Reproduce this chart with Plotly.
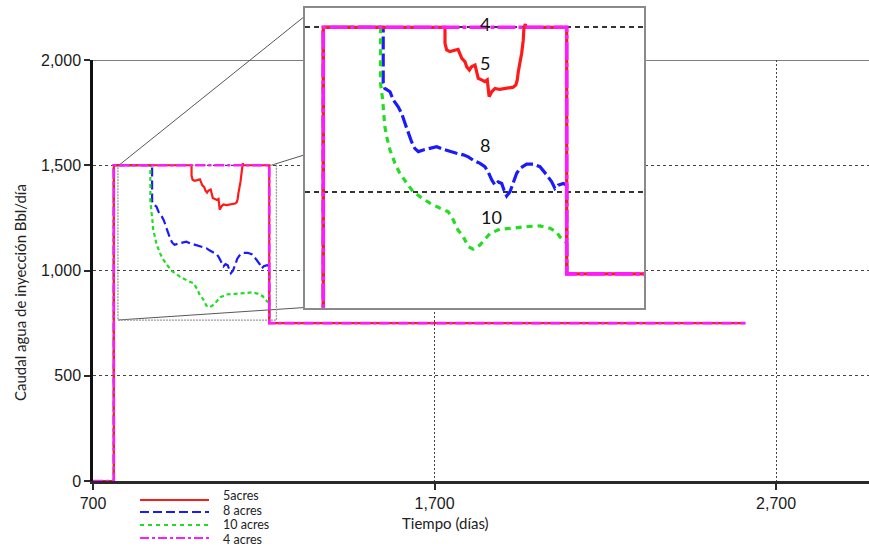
import plotly.graph_objects as go

# ---- injection-water rate per well spacing (time in days, rate in Bbl/day) ----
t_4 = [700, 761, 761, 1216, 1216, 2610]
q_4 = [0, 0, 1500, 1500, 750, 750]

t_5 = [700, 761, 761, 988.5, 988.5, 991.6, 997.8, 1007, 1013, 1016, 1019.7, 1026, 1029, 1034,
       1038, 1044.6, 1047.7, 1050.7, 1057, 1063, 1067.5, 1069, 1071, 1075.8, 1082, 1091, 1100.6,
       1110, 1116, 1121, 1123.6, 1125.5, 1128.7, 1131.8, 1134.8, 1136, 1138.6, 1140, 1216, 1216, 2610]
q_5 = [0, 0, 1500, 1500, 1451, 1431, 1426, 1431, 1433, 1421, 1406, 1395, 1380, 1370,
       1380, 1385, 1365, 1345, 1340, 1335, 1340, 1319, 1289, 1304, 1314, 1311, 1314,
       1316, 1318, 1325, 1340, 1365, 1390, 1421, 1461, 1497, 1510, 1500, 1500, 750, 750]

t_8 = [700, 761, 761, 873, 873, 876, 885.7, 891.8, 901, 907.5, 913.7, 920, 926, 932, 938.6, 948,
       960.4, 973, 985, 997.8, 1010, 1022.7, 1032, 1041, 1054, 1063, 1069, 1075.8, 1082, 1088,
       1094.5, 1098.8, 1103.8, 1110, 1116, 1122.5, 1128.7, 1141, 1153.5, 1166, 1178.6, 1188,
       1194, 1200, 1209.6, 1216, 1216]
q_8 = [0, 0, 1500, 1500, 1330, 1314, 1304, 1279, 1258, 1238, 1208, 1178, 1152, 1132, 1122, 1127,
       1132, 1137, 1129, 1122, 1117, 1112, 1106, 1096, 1086, 1076, 1061, 1036, 1020, 1030,
       1025, 1005, 987, 1000, 1025, 1056, 1071, 1084, 1084, 1076, 1051, 1030,
       1010, 1020, 1025, 1020, 750]

t_10 = [700, 761, 761, 868, 868, 872, 874.5, 876, 879.5, 885.7, 895, 904, 917, 929, 941.7, 960.4,
        979, 994.6, 1004, 1013, 1022.7, 1032, 1041, 1054, 1072.6, 1091, 1116, 1141, 1166, 1184.7,
        1197, 1203, 1212.8, 1216, 1216]
q_10 = [0, 0, 1500, 1500, 1330, 1279, 1228, 1198, 1167, 1127, 1086, 1056, 1026, 1000, 985, 965,
        950, 939, 914, 883, 863, 833, 825, 838, 873, 886, 889, 894, 896, 889,
        878, 863, 848, 845, 750]

series_names = ["5acres", "8 acres", "10 acres", "4 acres"]
x_tickvals = [700, 1700, 2700]
y_tickvals = [0, 500, 1000, 1500, 2000]
inset_labels = ["4", "5", "8", "10"]
inset_label_t = [1063, 1063, 1063, 1076]
inset_label_q = [1510, 1392, 1142, 924]

# ---- page geometry ----
W, H = 869, 546
ML, MR, MT, MB = 93, 0, 0, 65
PW, PH = W - ML - MR, H - MT - MB


def px(xpix):
    return (xpix - ML) / PW


def py(ypix):
    return (H - MB - ypix) / PH


colors = {"5acres": "#ff1a1a", "8 acres": "#1a1aff", "10 acres": "#22dd22", "4 acres": "#ff1aff"}
dash_main = {"5acres": "solid", "8 acres": "9px,4px", "10 acres": "4px,3px", "4 acres": "10px,3px,3px,3px"}
dash_inset = {"5acres": "solid", "8 acres": "13px,4px", "10 acres": "6px,5px", "4 acres": "18px,3px,4px,3px"}
data = {"5acres": (t_5, q_5), "8 acres": (t_8, q_8), "10 acres": (t_10, q_10), "4 acres": (t_4, q_4)}
draw_order = ["8 acres", "10 acres", "5acres", "4 acres"]

fig = go.Figure()
for name in draw_order:
    t, q = data[name]
    fig.add_trace(go.Scatter(x=t, y=q, mode="lines", name=name, showlegend=False,
                             line=dict(color=colors[name], width=2.2 if name != "4 acres" else 2.6,
                                       dash=dash_main[name]),
                             xaxis="x", yaxis="y"))
for name in draw_order:
    t, q = data[name]
    fig.add_trace(go.Scatter(x=t, y=q, mode="lines", name=name, showlegend=False,
                             line=dict(color=colors[name], width=3.2 if name != "4 acres" else 3.6,
                                       dash=dash_inset[name]),
                             xaxis="x2", yaxis="y2"))

tick_font = dict(family="Liberation Sans, Arial", size=16, color="#1a1a1a")

fig.update_layout(
    width=W, height=H,
    margin=dict(l=ML, r=MR, t=MT, b=MB, pad=0, autoexpand=False),
    showlegend=False,
    paper_bgcolor="white", plot_bgcolor="white",
    xaxis=dict(domain=[0, 1], range=[700, 2972], tickvals=x_tickvals,
               ticktext=[f"{v:,}" for v in x_tickvals], tickfont=tick_font,
               showline=True, linecolor="#2a2a2a", linewidth=2.5,
               ticks="outside", ticklen=6, tickwidth=2, tickcolor="#2a2a2a",
               showgrid=True, gridcolor="#444444", gridwidth=1.3, griddash="2px,2px",
               zeroline=False, fixedrange=True, automargin=False),
    yaxis=dict(domain=[0, py(60)], range=[0, 2000], tickvals=y_tickvals,
               ticktext=[f"{v:,}" for v in y_tickvals], tickfont=tick_font,
               showline=True, linecolor="#111111", linewidth=2.5,
               ticks="outside", ticklen=6, tickwidth=2, tickcolor="#2a2a2a",
               showgrid=True, gridcolor="#444444", gridwidth=1.3, griddash="3px,3px",
               zeroline=False, fixedrange=True, automargin=False),
    xaxis2=dict(domain=[px(305), px(644)], range=[726.8, 1360.5], anchor="y2",
                showgrid=False, showticklabels=False, ticks="", zeroline=False, automargin=False,
                showline=True, mirror=True, linecolor="#8a8a8a", linewidth=1.5),
    yaxis2=dict(domain=[py(307.5), py(8.3)], range=[647.8, 1557.8], anchor="x2",
                tickvals=[1000, 1500], showticklabels=False, ticks="", automargin=False,
                showgrid=True, gridcolor="#333333", gridwidth=1.6, griddash="5px,4px",
                zeroline=False, showline=True, mirror=True, linecolor="#8a8a8a", linewidth=1.5),
)

shapes = []
# plot top border at 2000
shapes.append(dict(type="line", xref="paper", yref="y", x0=0, x1=1, y0=2000, y1=2000,
                   line=dict(color="#555555", width=1.6), layer="below"))
# zoom window in the main plot
shapes.append(dict(type="rect", xref="x", yref="y", x0=773, x1=1237, y0=764, y1=1500,
                   line=dict(color="#9a9a9a", width=1.3, dash="2px,1px"), layer="below"))
# connectors from the zoom window to the inset
for (xa, ya, xb, yb) in [(118, 166, 305, 16), (272, 165, 305, 154.7), (118, 320, 305, 307.5)]:
    shapes.append(dict(type="line", xref="paper", yref="paper",
                       x0=px(xa), y0=py(ya), x1=px(xb), y1=py(yb),
                       line=dict(color="#444444", width=0.9), layer="below"))

# legend
legend_line_y = [500, 512, 525, 538]
legend_text_y = [495.5, 510, 524.5, 539]
annotations = []
legend_dash = {"5acres": "solid", "8 acres": "9px,4px", "10 acres": "4px,4px", "4 acres": "9px,3px,3px,3px"}
for name, ly, ty in zip(series_names, legend_line_y, legend_text_y):
    shapes.append(dict(type="line", xref="paper", yref="paper", x0=px(140), x1=px(209),
                       y0=py(ly), y1=py(ly),
                       line=dict(color=colors[name], width=2, dash=legend_dash[name])))
    annotations.append(dict(xref="paper", yref="paper", x=px(222), y=py(ty), text=name,
                            showarrow=False, xanchor="left", yanchor="middle", borderpad=0,
                            font=dict(family="Lato", size=12.5, color="#222222")))

for lab, lt, lq in zip(inset_labels, inset_label_t, inset_label_q):
    annotations.append(dict(xref="x2", yref="y2", x=lt, y=lq, text=lab, showarrow=False,
                            xanchor="center", yanchor="middle",
                            font=dict(family="Lato", size=18, color="#111111")))

annotations.append(dict(xref="paper", yref="paper", x=px(445), y=py(523),
                        text="Tiempo (días)", showarrow=False, xanchor="center", yanchor="middle",
                        font=dict(family="Lato", size=15, color="#222222")))
annotations.append(dict(xref="paper", yref="paper", x=px(20), y=py(293),
                        text="Caudal agua de inyección Bbl/día", showarrow=False, textangle=-90,
                        xanchor="center", yanchor="middle",
                        font=dict(family="Lato", size=15, color="#222222")))

fig.update_layout(shapes=shapes, annotations=annotations)
fig.write_html("out.html")
